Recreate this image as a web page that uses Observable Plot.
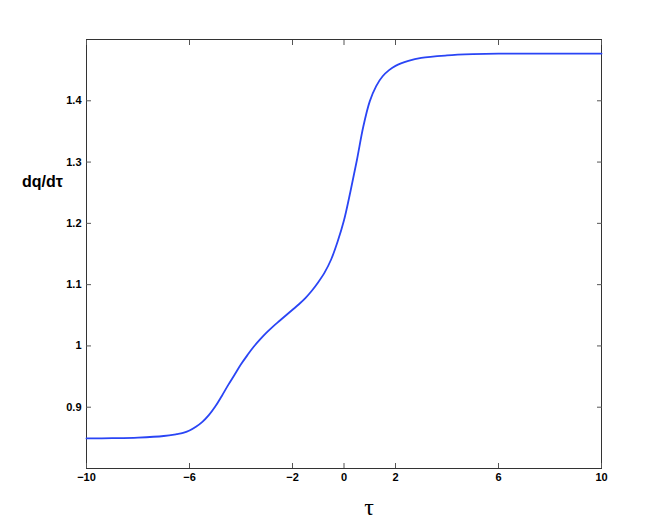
<!DOCTYPE html>
<html>
<head>
<meta charset="utf-8">
<script src="https://cdn.jsdelivr.net/npm/d3@7"></script>
<script src="https://cdn.jsdelivr.net/npm/@observablehq/plot@0.6"></script>
<style>
  html, body { margin: 0; padding: 0; background: #fff; }
  svg { display: block; }
</style>
</head>
<body>
<div id="chart"></div>
<script>
const tau = [-10, -9, -8, -7, -6.5, -6.25, -6, -5.75, -5.5, -5.25, -5, -4.75, -4.5, -4.25, -4, -3.75, -3.5, -3.25, -3, -2.75, -2.5, -2.25, -2, -1.75, -1.5, -1.25, -1, -0.75, -0.5, -0.25, 0, 0.25, 0.5, 0.75, 1, 1.25, 1.5, 1.75, 2, 2.5, 3, 4, 5, 6, 8, 10];
const dqdtau = [0.849, 0.8495, 0.8505, 0.853, 0.856, 0.858, 0.862, 0.868, 0.876, 0.887, 0.901, 0.918, 0.936, 0.953, 0.970, 0.985, 0.999, 1.011, 1.022, 1.032, 1.041, 1.050, 1.059, 1.068, 1.078, 1.090, 1.104, 1.120, 1.141, 1.170, 1.205, 1.252, 1.303, 1.358, 1.399, 1.424, 1.440, 1.450, 1.457, 1.465, 1.470, 1.474, 1.476, 1.477, 1.477, 1.477];
const xTicks = [-10, -6, -2, 0, 2, 6, 10];
const yTicks = [0.9, 1.0, 1.1, 1.2, 1.3, 1.4];
const yTickLabels = ["0.9", "1", "1.1", "1.2", "1.3", "1.4"];

const data = tau.map((t, i) => ({t, v: dqdtau[i]}));
const fmtY = d => yTickLabels[yTicks.findIndex(v => Math.abs(v - d) < 1e-9)];

const chart = Plot.plot({
  width: 664,
  height: 527,
  marginLeft: 86,
  marginRight: 63,
  marginTop: 39,
  marginBottom: 59,
  style: {fontFamily: "'Liberation Sans', Arial, sans-serif", fontSize: "11px", fontWeight: "bold", color: "#000", background: "#fff"},
  x: {domain: [-10, 10]},
  y: {domain: [0.8, 1.5]},
  marks: [
    Plot.frame({stroke: "#333", strokeWidth: 1}),
    Plot.axisX({anchor: "bottom", ticks: xTicks, tickSize: 0, tickPadding: 5, tickFormat: d => String(d).replace("-", "\u2212"), label: null, fill: "#000"}),
    Plot.axisX({anchor: "bottom", ticks: xTicks, tickSize: -5, tickFormat: () => "", label: null, stroke: "#555"}),
    Plot.axisX({anchor: "top", ticks: xTicks, tickSize: -5, tickFormat: () => "", label: null, stroke: "#555"}),
    Plot.axisY({anchor: "left", ticks: yTicks, tickSize: 0, tickPadding: 5, tickFormat: fmtY, label: null, fill: "#000"}),
    Plot.axisY({anchor: "left", ticks: yTicks, tickSize: -5, tickFormat: () => "", label: null, stroke: "#555"}),
    Plot.axisY({anchor: "right", ticks: yTicks, tickSize: -5, tickFormat: () => "", label: null, stroke: "#555"}),
    Plot.line(data, {x: "t", y: "v", stroke: "#2a45f5", strokeWidth: 1.8, curve: "catmull-rom"}),
    Plot.text(["dq/d\u03C4"], {frameAnchor: "left", textAnchor: "middle", dx: -44, dy: -72, text: d => d, fontSize: 16, fontWeight: "bold", fill: "#000"}),
    Plot.text(["\u03C4"], {frameAnchor: "bottom", textAnchor: "middle", dx: 25, dy: 46, text: d => d, fontSize: 24, fontWeight: "normal", fontFamily: "'Liberation Serif', 'DejaVu Serif', serif", fill: "#000"})
  ]
});
document.getElementById("chart").appendChild(chart);
</script>
</body>
</html>
